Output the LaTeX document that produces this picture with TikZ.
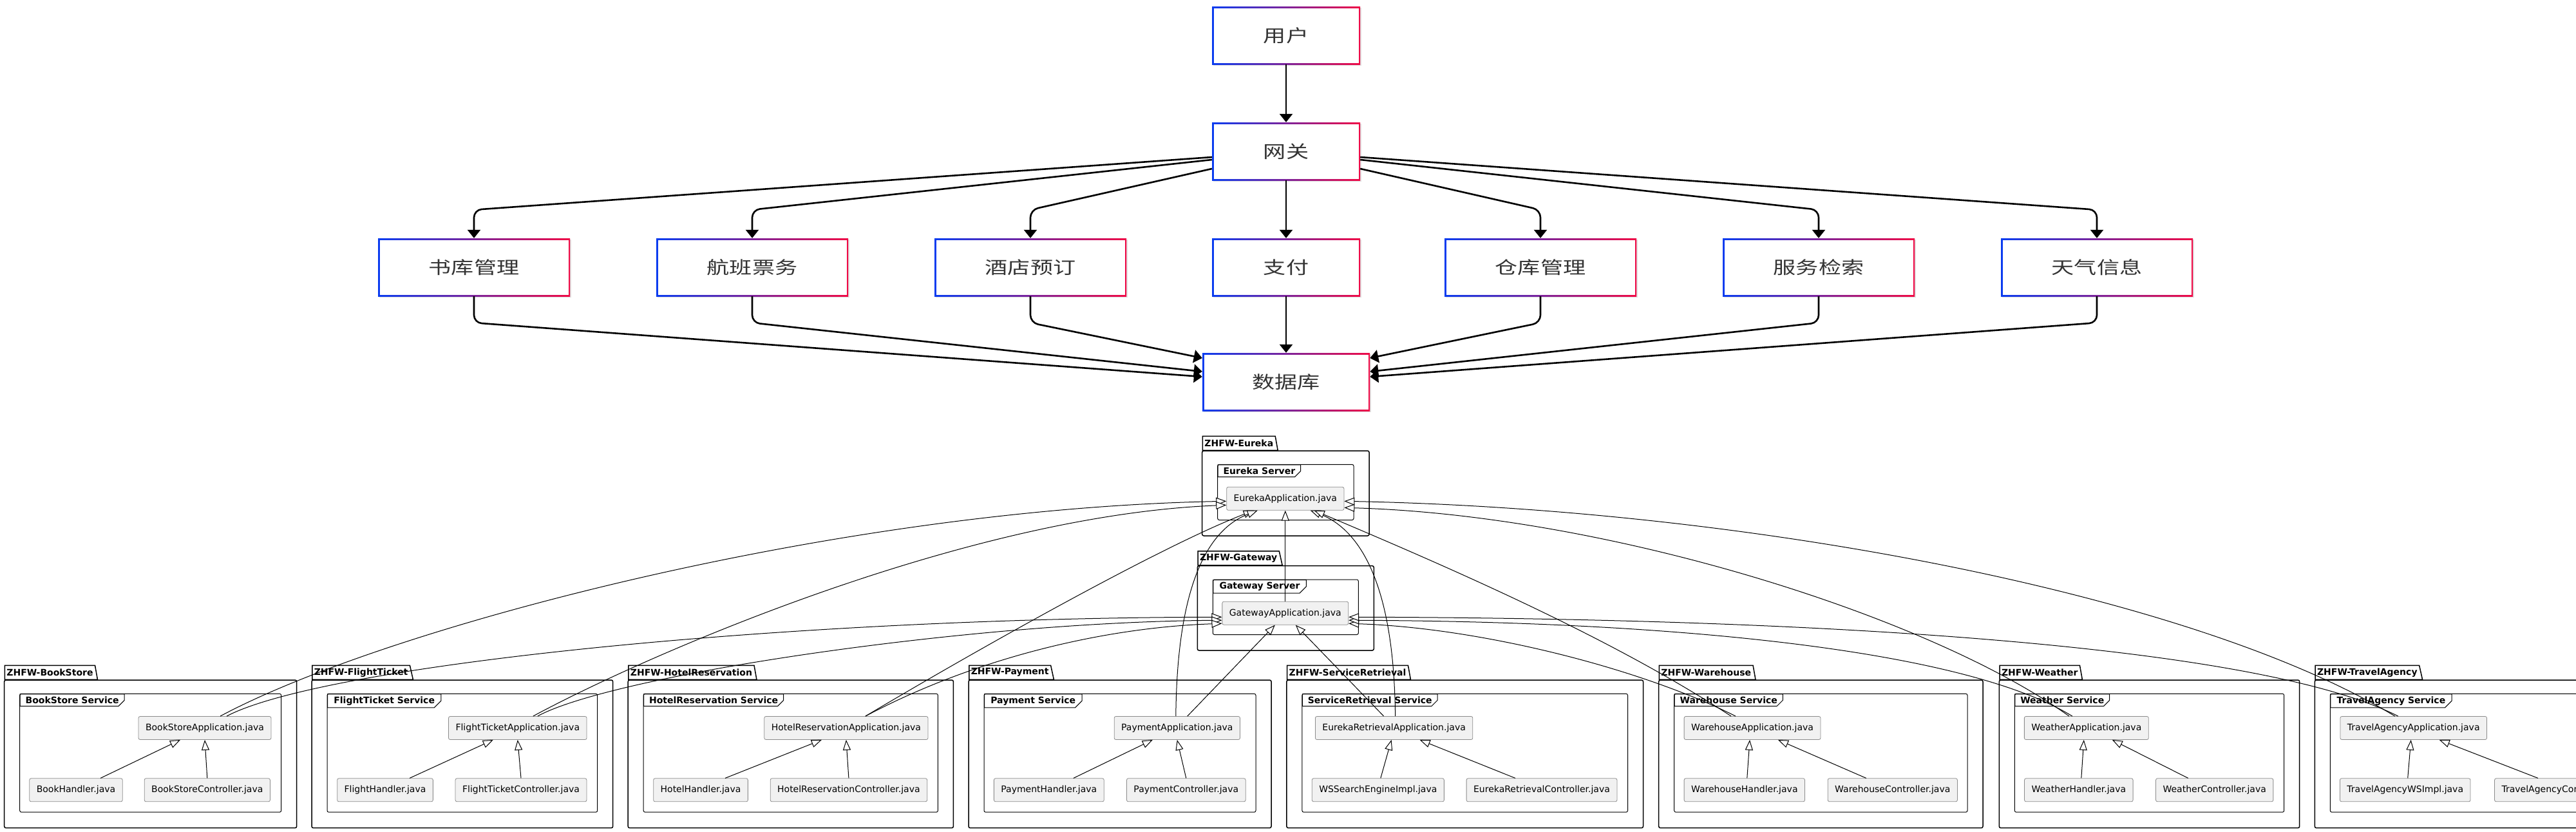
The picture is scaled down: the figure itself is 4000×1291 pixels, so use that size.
\documentclass[tikz,border=0pt]{standalone}
\usepackage{fontspec}
\setmainfont{DejaVu Sans}
\newfontfamily\cjk[FakeStretch=1.3]{Noto Sans CJK SC}
\usetikzlibrary{arrows.meta,positioning,shapes.geometric,shapes.misc,shadows}

\definecolor{gblue}{RGB}{10,60,240}
\definecolor{gred}{RGB}{240,10,70}
\definecolor{cjktext}{RGB}{51,51,51}
\definecolor{filefill}{RGB}{241,241,241}
\definecolor{fileline}{RGB}{140,140,140}

\tikzset{
    svcbox/.style={minimum width=298pt, minimum height=90pt, inner sep=0pt,
        font=\cjk\fontsize{27}{30}\selectfont, text=cjktext, fill=white,
        drop shadow={shadow xshift=2pt, shadow yshift=-2pt, opacity=0.2, fill=black!60},
        path picture={
            \shade[left color=gblue, right color=gred] (path picture bounding box.south west) rectangle (path picture bounding box.north east);
            \fill[white] ([shift={(2.5pt,2.5pt)}]path picture bounding box.south west) rectangle ([shift={(-2.5pt,-2.5pt)}]path picture bounding box.north east);}},
    flow/.style={draw=black, line width=2.6pt, rounded corners=12pt, -{Triangle[length=13pt,width=20pt]}},
    file/.style={draw=fileline, fill=filefill, rounded corners=2.5pt, minimum height=36pt,
        inner xsep=11pt, line width=0.8pt, font=\fontsize{14}{16}\selectfont},
    pkgbody/.style={draw=black, line width=1.5pt, rounded corners=2.5pt},
    pkgtab/.style={trapezium, trapezium left angle=90, trapezium right angle=70, trapezium stretches body=true,
        draw=black, line width=1.5pt, minimum height=22pt, inner xsep=3pt, inner ysep=0pt, anchor=bottom left corner,
        font=\bfseries\fontsize{14}{16}\selectfont},
    framebox/.style={draw=black, line width=1pt, rounded corners=2.5pt},
    framelabel/.style={chamfered rectangle, chamfered rectangle corners=south east, chamfered rectangle xsep=8pt,
        draw=black, line width=1pt, minimum height=18.7pt, inner xsep=3pt, inner ysep=0pt, anchor=north west,
        font=\bfseries\fontsize{14}{16}\selectfont},
    ext/.style={draw=black, line width=1pt, -{Triangle[open, length=16pt, width=12pt, fill=white]}},
}

\begin{document}
\begin{tikzpicture}[x=1pt, y=-1pt]
	\useasboundingbox (0,0) rectangle (4000,1291);
	\clip (0,0) rectangle (4000,1291);
	\fill[white] (0,0) rectangle (4000,1291);

	% top: request flow
	\node[svcbox, minimum width=230pt] (user) at (1997,55) {用户};
	\node[svcbox, minimum width=230pt] (gate) at (1997,235) {网关};
	\node[svcbox] (lib) at (736,415) {书库管理};
	\node[svcbox] (flight) at (1168,415) {航班票务};
	\node[svcbox] (hotel) at (1600,415) {酒店预订};
	\node[svcbox, minimum width=230pt] (pay) at (1997,415) {支付};
	\node[svcbox] (store) at (2392,415) {仓库管理};
	\node[svcbox] (search) at (2824,415) {服务检索};
	\node[svcbox] (weather) at (3256,415) {天气信息};
	\node[svcbox, minimum width=260pt] (db) at (1997,593) {数据库};

	\draw[flow] (user) -- (gate);
	\draw[flow] ([yshift=-9pt]gate.west) -- ([yshift=44pt]lib.north) -- (lib.north);
	\draw[flow] ([yshift=-13pt]gate.west) -- ([yshift=44pt]flight.north) -- (flight.north);
	\draw[flow] ([yshift=-27pt]gate.west) -- ([yshift=44pt]hotel.north) -- (hotel.north);
	\draw[flow] (gate) -- (pay);
	\draw[flow] ([yshift=-27pt]gate.east) -- ([yshift=44pt]store.north) -- (store.north);
	\draw[flow] ([yshift=-13pt]gate.east) -- ([yshift=44pt]search.north) -- (search.north);
	\draw[flow] ([yshift=-9pt]gate.east) -- ([yshift=44pt]weather.north) -- (weather.north);

	\draw[flow] (lib.south) -- ([yshift=-41pt]lib.south) -- ([yshift=8pt]db.west);
	\draw[flow] (flight.south) -- ([yshift=-41pt]flight.south) -- ([yshift=16pt]db.west);
	\draw[flow] (hotel.south) -- ([yshift=-41pt]hotel.south) -- ([yshift=37pt]db.west);
	\draw[flow] (pay) -- (db);
	\draw[flow] (store.south) -- ([yshift=-41pt]store.south) -- ([yshift=37pt]db.east);
	\draw[flow] (search.south) -- ([yshift=-41pt]search.south) -- ([yshift=16pt]db.east);
	\draw[flow] (weather.south) -- ([yshift=-41pt]weather.south) -- ([yshift=8pt]db.east);

	% bottom: packages
	\foreach \id/\xa/\xb/\yt/\yb/\pk/\fr in {
		eu/1866.7/2126/678/832/ZHFW-Eureka/Eureka Server,
		gw/1859.3/2133.3/856.7/1010/ZHFW-Gateway/Gateway Server,
		bs/6.7/460.7/1034/1285.7/ZHFW-BookStore/BookStore Service,
		ft/484/951.7/1034/1285.7/ZHFW-FlightTicket/FlightTicket Service,
		hr/975.2/1480.4/1034/1285.7/ZHFW-HotelReservation/HotelReservation Service,
		pay/1504/1974/1034/1285.7/ZHFW-Payment/Payment Service,
		sr/1997.9/2551.5/1034/1285.7/ZHFW-ServiceRetrieval/ServiceRetrieval Service,
		wh/2575.7/3079/1034/1285.7/ZHFW-Warehouse/Warehouse Service,
		we/3104.3/3570.7/1034/1285.7/ZHFW-Weather/Weather Service,
		ta/3594.3/4135/1034/1285.7/ZHFW-TravelAgency/TravelAgency Service}{
		\draw[pkgbody] (\xa,\yt+22) rectangle (\xb,\yb);
		\node[pkgtab] (tab\id) at (\xa,\yt+22) {\pk};
		\draw[framebox] (\xa+24,\yt+43.3) rectangle (\xb-24,\yb-24.5);
		\node[framelabel] (lbl\id) at (\xa+24,\yt+43.3) {\fr};
	}

	\node[file] (euApp) at (1995.8,774.3) {EurekaApplication.java};
	\node[file] (gwApp) at (1995.8,952.2) {GatewayApplication.java};
	\node[file] (bsApp) at (318,1130.5) {BookStoreApplication.java};
	\node[file] (bsLeft) at (118,1226.8) {BookHandler.java};
	\node[file] (bsRight) at (321.8,1226.8) {BookStoreController.java};
	\node[file] (ftApp) at (803.8,1130.5) {FlightTicketApplication.java};
	\node[file] (ftLeft) at (598,1226.8) {FlightHandler.java};
	\node[file] (ftRight) at (809,1226.8) {FlightTicketController.java};
	\node[file] (hrApp) at (1313.9,1130.5) {HotelReservationApplication.java};
	\node[file] (hrLeft) at (1088,1226.8) {HotelHandler.java};
	\node[file] (hrRight) at (1317.9,1226.8) {HotelReservationController.java};
	\node[file] (payApp) at (1827.8,1130.5) {PaymentApplication.java};
	\node[file] (payLeft) at (1628.8,1226.8) {PaymentHandler.java};
	\node[file] (payRight) at (1841.8,1226.8) {PaymentController.java};
	\node[file] (srApp) at (2164.6,1130.5) {EurekaRetrievalApplication.java};
	\node[file] (srLeft) at (2139.8,1226.8) {WSSearchEngineImpl.java};
	\node[file] (srRight) at (2394,1226.8) {EurekaRetrievalController.java};
	\node[file] (whApp) at (2721,1130.5) {WarehouseApplication.java};
	\node[file] (whLeft) at (2708.8,1226.8) {WarehouseHandler.java};
	\node[file] (whRight) at (2938.8,1226.8) {WarehouseController.java};
	\node[file] (weApp) at (3239.8,1130.5) {WeatherApplication.java};
	\node[file] (weLeft) at (3227.8,1226.8) {WeatherHandler.java};
	\node[file] (weRight) at (3438.7,1226.8) {WeatherController.java};
	\node[file] (taApp) at (3747.7,1130.5) {TravelAgencyApplication.java};
	\node[file] (taLeft) at (3734.7,1226.8) {TravelAgencyWSImpl.java};
	\node[file] (taRight) at (3982,1226.8) {TravelAgencyController.java};

	% inside each service
	\foreach \s in {bs,ft,hr,pay}{
		\draw[ext] ([xshift=38pt]\s Left.north) -- ([xshift=-38pt]\s App.south);
		\draw[ext] (\s Right.north) -- (\s App.south);
	}
	\foreach \s in {sr,wh,we,ta}{
		\draw[ext] ([xshift=4pt]\s Left.north) -- ([xshift=-4pt]\s App.south);
		\draw[ext] ([xshift=-41pt]\s Right.north) -- ([xshift=40pt]\s App.south);
	}

	% registration with eureka and gateway
	\draw[ext] (gwApp) -- (euApp);
	\draw[ext] ([xshift=24pt]bsApp.north) .. controls +(258,-138) and +(-606,12) .. ([yshift=-4pt]euApp.west);
	\draw[ext] ([xshift=34pt]bsApp.north) .. controls +(148,-78) and +(-699,2) .. ([yshift=-6pt]gwApp.west);
	\draw[ext] ([xshift=24pt]ftApp.north) .. controls +(172,-93) and +(-406,16) .. ([yshift=-10pt]euApp.west);
	\draw[ext] ([xshift=31pt]ftApp.north) .. controls +(115,-63) and +(-399,3) .. ([yshift=-11pt]gwApp.west);
	\draw[ext] ([xshift=30pt]hrApp.north) .. controls +(156,-93) and +(-150,58) .. ([xshift=-49pt]euApp.south);
	\draw[ext] ([xshift=30pt]hrApp.north) .. controls +(156,-83) and +(-199,7) .. ([yshift=-16pt]gwApp.west);
	\draw[ext] ([xshift=-2pt]payApp.north) .. controls +(2,-213) and +(-73,28) .. ([xshift=-43pt]euApp.south);
	\draw[ext] ([xshift=16pt]payApp.north) -- ([xshift=-16pt]gwApp.south);
	\draw[ext] ([xshift=-16pt]srApp.north) -- ([xshift=16pt]gwApp.south);
	\draw[ext] ([xshift=2pt]srApp.north) .. controls +(-2,-213) and +(73,28) .. ([xshift=39pt]euApp.south);
	\draw[ext] ([xshift=-33pt]whApp.north) .. controls +(-188,-123) and +(208,88) .. ([xshift=45pt]euApp.south);
	\draw[ext] ([xshift=-26pt]whApp.north) .. controls +(-145,-73) and +(208,7) .. ([yshift=-16pt]gwApp.east);
	\draw[ext] ([xshift=-27pt]weApp.north) .. controls +(-213,-153) and +(414,12) .. ([yshift=-14pt]euApp.east);
	\draw[ext] ([xshift=-22pt]weApp.north) .. controls +(-168,-103) and +(508,2) .. ([yshift=-11pt]gwApp.east);
	\draw[ext] ([xshift=-29pt]taApp.north) .. controls +(-318,-193) and +(614,12) .. ([yshift=-4pt]euApp.east);
	\draw[ext] ([xshift=-24pt]taApp.north) .. controls +(-223,-113) and +(708,2) .. ([yshift=-6pt]gwApp.east);
\end{tikzpicture}
\end{document}
